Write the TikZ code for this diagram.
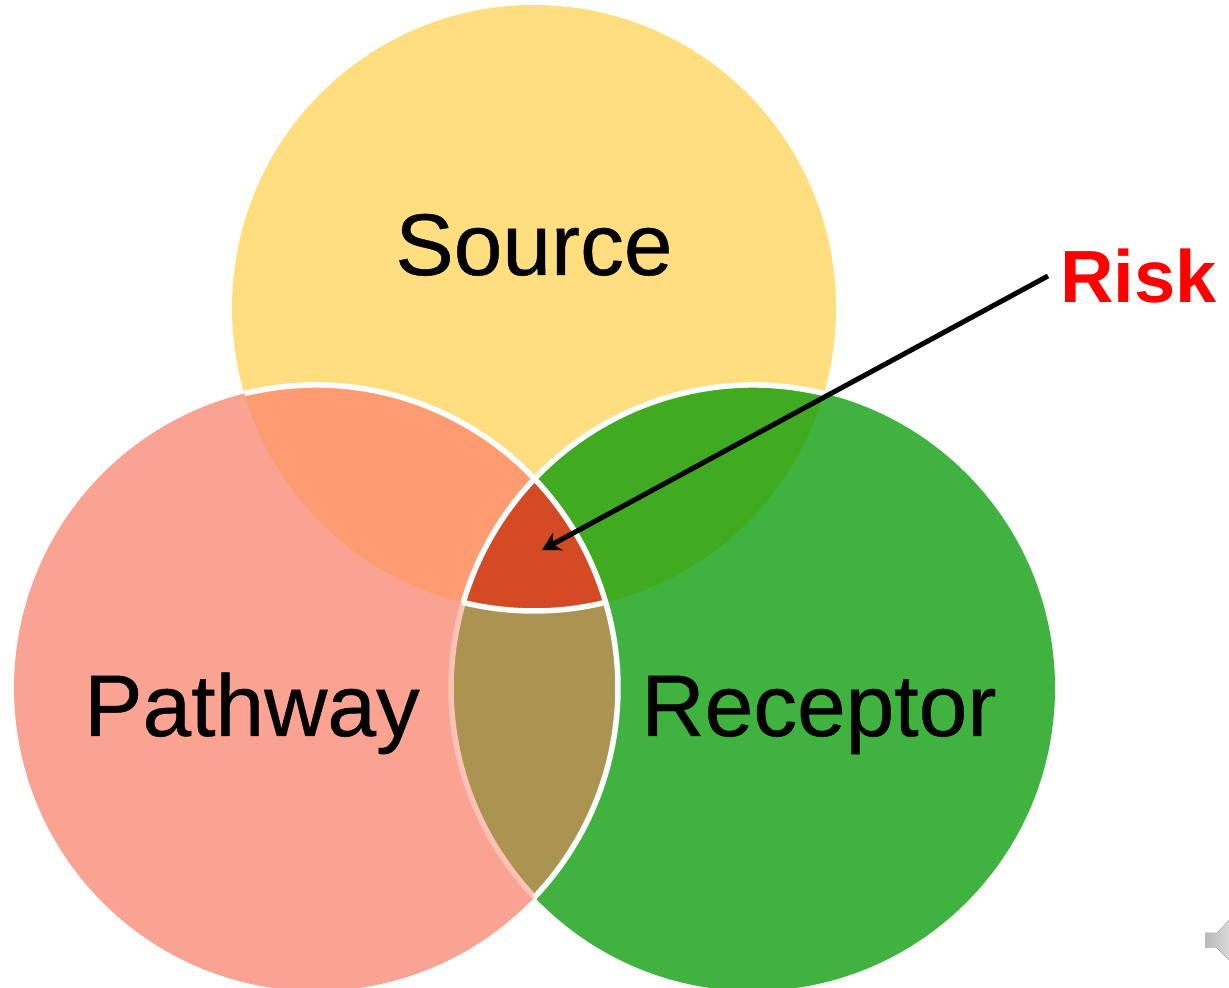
\documentclass[tikz,border=0pt]{standalone}
\usepackage{fontspec}
\setmainfont{Liberation Sans}
\newfontfamily\heavyish[FakeBold=0.5]{Liberation Sans}
\usetikzlibrary{arrows.meta}
\definecolor{srcC}{HTML}{FFDE80}
\definecolor{pathC}{HTML}{FBA392}
\definecolor{recC}{HTML}{40B240}
\definecolor{spC}{HTML}{FC9C70}
\definecolor{srC}{HTML}{40AA20}
\definecolor{prC}{HTML}{AB9351}
\definecolor{allC}{HTML}{D34A24}
\definecolor{edgeC}{HTML}{FDC2B6}
\definecolor{riskC}{HTML}{FF0000}
\tikzset{
  sep/.style={white,line width=5.5pt},
  faint/.style={edgeC,line width=5.5pt},
  biglabel/.style={anchor=base,inner sep=0pt,font=\heavyish\fontsize{87.5}{87.5}\selectfont,text=black},
  pointer/.style={black,line width=5pt,-{Stealth[length=18pt,width=20pt]}},
  oval/.style={x radius=302pt,y radius=303pt}
}
\begin{document}
\begin{tikzpicture}[x=1pt,y=1pt]
\useasboundingbox (0,0) rectangle (1229,988);
\coordinate (S) at (534,680);
\coordinate (P) at (316,300);
\coordinate (Q) at (753,300);
\fill[srcC] (S) ellipse[oval];
\fill[pathC] (P) ellipse[oval];
\fill[recC] (Q) ellipse[oval];
\begin{scope}\clip (S) ellipse[oval]; \fill[spC] (P) ellipse[oval]; \fill[srC] (Q) ellipse[oval];\end{scope}
\begin{scope}\clip (P) ellipse[oval]; \fill[prC] (Q) ellipse[oval];
  \clip (Q) ellipse[oval]; \fill[allC] (S) ellipse[oval];\end{scope}
% separators
\draw[faint] (Q) ++(163.6:302 and 303) arc[start angle=163.6,end angle=223.65,x radius=302,y radius=303];
\draw[sep] (P) ++(103.7:302 and 303) arc[start angle=103.7,end angle=-43.65,x radius=302,y radius=303];
\draw[sep] (Q) ++(76.3:302 and 303) arc[start angle=76.3,end angle=163.6,x radius=302,y radius=303];
\draw[sep] (S) ++(256.3:302 and 303) arc[start angle=256.3,end angle=283.7,x radius=302,y radius=303];
% labels
\node[biglabel] (source) at (534,713) {Source};
\node[biglabel] (pathway) at (252,252) {Pathway};
\node[biglabel] (receptor) at (819,252) {Receptor};
\node[anchor=west,inner xsep=12pt,inner ysep=0pt,font=\fontsize{74}{74}\selectfont\bfseries,text=riskC] (risk) at (1048,712) {Risk};
\coordinate (target) at (542,438);
\draw[pointer] (risk.west) -- (target);
% speaker icon
\fill[left color=gray!55,right color=gray!30] (1205,55) -- (1217,55) -- (1229,68) -- (1229,28) -- (1217,40) -- (1205,40) -- cycle;
\end{tikzpicture}
\end{document}
